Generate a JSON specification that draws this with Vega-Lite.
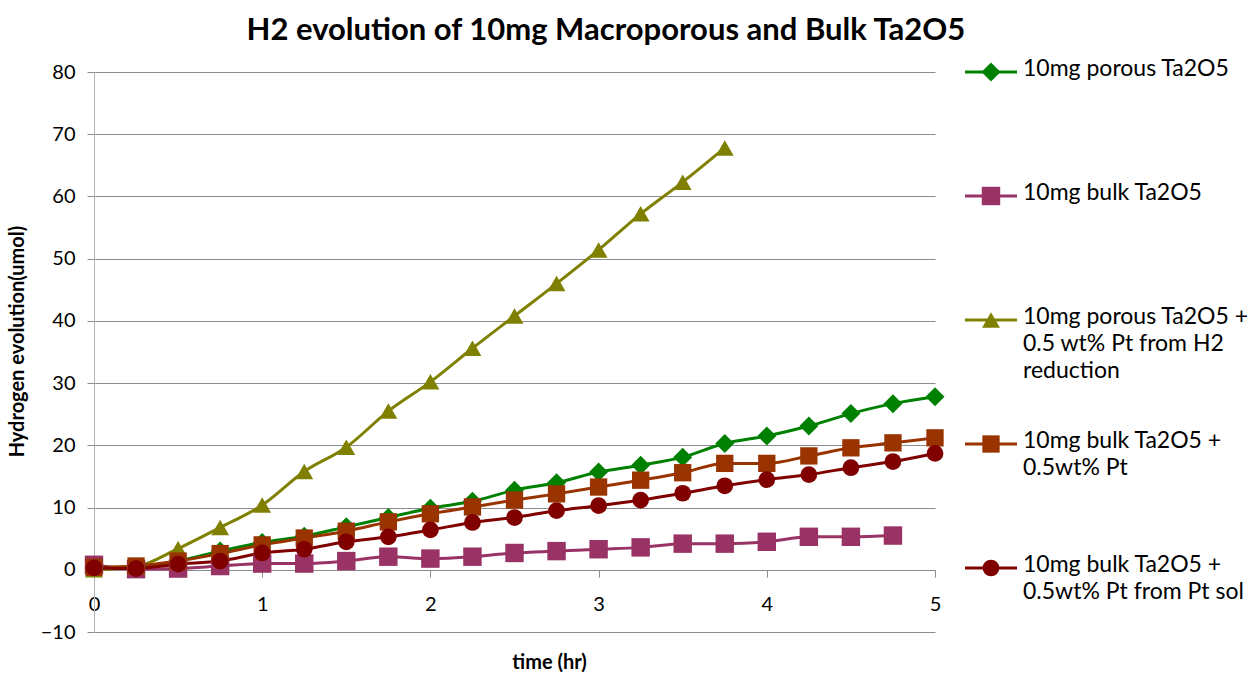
{
  "$schema": "https://vega.github.io/schema/vega-lite/v6.json",
  "padding": {"left": 7, "top": 15, "right": 0, "bottom": 0},
  "background": "white",
  "config": {"view": {"stroke": null}, "font": "Lato", "concat": {"spacing": 18}},
  "title": {"text": "H2 evolution of 10mg Macroporous and Bulk Ta2O5", "fontSize": 31, "font": "Lato", "fontWeight": "bold", "color": "black", "anchor": "middle", "offset": 11, "dx": -22},
  "datasets": {
    "series": [
      {"series": "10mg porous Ta2O5", "time": 0, "h2": 0.3},
      {"series": "10mg porous Ta2O5", "time": 0.25, "h2": 0.5},
      {"series": "10mg porous Ta2O5", "time": 0.5, "h2": 1.4},
      {"series": "10mg porous Ta2O5", "time": 0.75, "h2": 3.0},
      {"series": "10mg porous Ta2O5", "time": 1, "h2": 4.4},
      {"series": "10mg porous Ta2O5", "time": 1.25, "h2": 5.4},
      {"series": "10mg porous Ta2O5", "time": 1.5, "h2": 6.9},
      {"series": "10mg porous Ta2O5", "time": 1.75, "h2": 8.4},
      {"series": "10mg porous Ta2O5", "time": 2, "h2": 9.9},
      {"series": "10mg porous Ta2O5", "time": 2.25, "h2": 11.0},
      {"series": "10mg porous Ta2O5", "time": 2.5, "h2": 12.8},
      {"series": "10mg porous Ta2O5", "time": 2.75, "h2": 14.0},
      {"series": "10mg porous Ta2O5", "time": 3, "h2": 15.7},
      {"series": "10mg porous Ta2O5", "time": 3.25, "h2": 16.8},
      {"series": "10mg porous Ta2O5", "time": 3.5, "h2": 18.1},
      {"series": "10mg porous Ta2O5", "time": 3.75, "h2": 20.3},
      {"series": "10mg porous Ta2O5", "time": 4, "h2": 21.5},
      {"series": "10mg porous Ta2O5", "time": 4.25, "h2": 23.1},
      {"series": "10mg porous Ta2O5", "time": 4.5, "h2": 25.1},
      {"series": "10mg porous Ta2O5", "time": 4.75, "h2": 26.7},
      {"series": "10mg porous Ta2O5", "time": 5, "h2": 27.8},
      {"series": "10mg bulk Ta2O5", "time": 0, "h2": 0.8},
      {"series": "10mg bulk Ta2O5", "time": 0.25, "h2": 0.1},
      {"series": "10mg bulk Ta2O5", "time": 0.5, "h2": 0.2},
      {"series": "10mg bulk Ta2O5", "time": 0.75, "h2": 0.6},
      {"series": "10mg bulk Ta2O5", "time": 1, "h2": 1.0},
      {"series": "10mg bulk Ta2O5", "time": 1.25, "h2": 1.0},
      {"series": "10mg bulk Ta2O5", "time": 1.5, "h2": 1.4},
      {"series": "10mg bulk Ta2O5", "time": 1.75, "h2": 2.1},
      {"series": "10mg bulk Ta2O5", "time": 2, "h2": 1.8},
      {"series": "10mg bulk Ta2O5", "time": 2.25, "h2": 2.1},
      {"series": "10mg bulk Ta2O5", "time": 2.5, "h2": 2.7},
      {"series": "10mg bulk Ta2O5", "time": 2.75, "h2": 3.0},
      {"series": "10mg bulk Ta2O5", "time": 3, "h2": 3.3},
      {"series": "10mg bulk Ta2O5", "time": 3.25, "h2": 3.6},
      {"series": "10mg bulk Ta2O5", "time": 3.5, "h2": 4.2},
      {"series": "10mg bulk Ta2O5", "time": 3.75, "h2": 4.2},
      {"series": "10mg bulk Ta2O5", "time": 4, "h2": 4.5},
      {"series": "10mg bulk Ta2O5", "time": 4.25, "h2": 5.3},
      {"series": "10mg bulk Ta2O5", "time": 4.5, "h2": 5.3},
      {"series": "10mg bulk Ta2O5", "time": 4.75, "h2": 5.5},
      {"series": "10mg porous Ta2O5 + 0.5 wt% Pt from H2 reduction", "time": 0, "h2": 0.0},
      {"series": "10mg porous Ta2O5 + 0.5 wt% Pt from H2 reduction", "time": 0.25, "h2": 0.5},
      {"series": "10mg porous Ta2O5 + 0.5 wt% Pt from H2 reduction", "time": 0.5, "h2": 3.4},
      {"series": "10mg porous Ta2O5 + 0.5 wt% Pt from H2 reduction", "time": 0.75, "h2": 6.8},
      {"series": "10mg porous Ta2O5 + 0.5 wt% Pt from H2 reduction", "time": 1, "h2": 10.4},
      {"series": "10mg porous Ta2O5 + 0.5 wt% Pt from H2 reduction", "time": 1.25, "h2": 15.8},
      {"series": "10mg porous Ta2O5 + 0.5 wt% Pt from H2 reduction", "time": 1.5, "h2": 19.7},
      {"series": "10mg porous Ta2O5 + 0.5 wt% Pt from H2 reduction", "time": 1.75, "h2": 25.5},
      {"series": "10mg porous Ta2O5 + 0.5 wt% Pt from H2 reduction", "time": 2, "h2": 30.2},
      {"series": "10mg porous Ta2O5 + 0.5 wt% Pt from H2 reduction", "time": 2.25, "h2": 35.6},
      {"series": "10mg porous Ta2O5 + 0.5 wt% Pt from H2 reduction", "time": 2.5, "h2": 40.8},
      {"series": "10mg porous Ta2O5 + 0.5 wt% Pt from H2 reduction", "time": 2.75, "h2": 46.0},
      {"series": "10mg porous Ta2O5 + 0.5 wt% Pt from H2 reduction", "time": 3, "h2": 51.4},
      {"series": "10mg porous Ta2O5 + 0.5 wt% Pt from H2 reduction", "time": 3.25, "h2": 57.2},
      {"series": "10mg porous Ta2O5 + 0.5 wt% Pt from H2 reduction", "time": 3.5, "h2": 62.3},
      {"series": "10mg porous Ta2O5 + 0.5 wt% Pt from H2 reduction", "time": 3.75, "h2": 67.8},
      {"series": "10mg bulk Ta2O5 + 0.5wt% Pt", "time": 0, "h2": 0.4},
      {"series": "10mg bulk Ta2O5 + 0.5wt% Pt", "time": 0.25, "h2": 0.6},
      {"series": "10mg bulk Ta2O5 + 0.5wt% Pt", "time": 0.5, "h2": 1.4},
      {"series": "10mg bulk Ta2O5 + 0.5wt% Pt", "time": 0.75, "h2": 2.6},
      {"series": "10mg bulk Ta2O5 + 0.5wt% Pt", "time": 1, "h2": 4.0},
      {"series": "10mg bulk Ta2O5 + 0.5wt% Pt", "time": 1.25, "h2": 5.1},
      {"series": "10mg bulk Ta2O5 + 0.5wt% Pt", "time": 1.5, "h2": 6.2},
      {"series": "10mg bulk Ta2O5 + 0.5wt% Pt", "time": 1.75, "h2": 7.7},
      {"series": "10mg bulk Ta2O5 + 0.5wt% Pt", "time": 2, "h2": 9.0},
      {"series": "10mg bulk Ta2O5 + 0.5wt% Pt", "time": 2.25, "h2": 10.1},
      {"series": "10mg bulk Ta2O5 + 0.5wt% Pt", "time": 2.5, "h2": 11.2},
      {"series": "10mg bulk Ta2O5 + 0.5wt% Pt", "time": 2.75, "h2": 12.2},
      {"series": "10mg bulk Ta2O5 + 0.5wt% Pt", "time": 3, "h2": 13.3},
      {"series": "10mg bulk Ta2O5 + 0.5wt% Pt", "time": 3.25, "h2": 14.4},
      {"series": "10mg bulk Ta2O5 + 0.5wt% Pt", "time": 3.5, "h2": 15.6},
      {"series": "10mg bulk Ta2O5 + 0.5wt% Pt", "time": 3.75, "h2": 17.1},
      {"series": "10mg bulk Ta2O5 + 0.5wt% Pt", "time": 4, "h2": 17.1},
      {"series": "10mg bulk Ta2O5 + 0.5wt% Pt", "time": 4.25, "h2": 18.3},
      {"series": "10mg bulk Ta2O5 + 0.5wt% Pt", "time": 4.5, "h2": 19.6},
      {"series": "10mg bulk Ta2O5 + 0.5wt% Pt", "time": 4.75, "h2": 20.4},
      {"series": "10mg bulk Ta2O5 + 0.5wt% Pt", "time": 5, "h2": 21.2},
      {"series": "10mg bulk Ta2O5 + 0.5wt% Pt from Pt sol", "time": 0, "h2": 0.3},
      {"series": "10mg bulk Ta2O5 + 0.5wt% Pt from Pt sol", "time": 0.25, "h2": 0.2},
      {"series": "10mg bulk Ta2O5 + 0.5wt% Pt from Pt sol", "time": 0.5, "h2": 0.9},
      {"series": "10mg bulk Ta2O5 + 0.5wt% Pt from Pt sol", "time": 0.75, "h2": 1.4},
      {"series": "10mg bulk Ta2O5 + 0.5wt% Pt from Pt sol", "time": 1, "h2": 2.7},
      {"series": "10mg bulk Ta2O5 + 0.5wt% Pt from Pt sol", "time": 1.25, "h2": 3.3},
      {"series": "10mg bulk Ta2O5 + 0.5wt% Pt from Pt sol", "time": 1.5, "h2": 4.5},
      {"series": "10mg bulk Ta2O5 + 0.5wt% Pt from Pt sol", "time": 1.75, "h2": 5.3},
      {"series": "10mg bulk Ta2O5 + 0.5wt% Pt from Pt sol", "time": 2, "h2": 6.4},
      {"series": "10mg bulk Ta2O5 + 0.5wt% Pt from Pt sol", "time": 2.25, "h2": 7.6},
      {"series": "10mg bulk Ta2O5 + 0.5wt% Pt from Pt sol", "time": 2.5, "h2": 8.4},
      {"series": "10mg bulk Ta2O5 + 0.5wt% Pt from Pt sol", "time": 2.75, "h2": 9.5},
      {"series": "10mg bulk Ta2O5 + 0.5wt% Pt from Pt sol", "time": 3, "h2": 10.3},
      {"series": "10mg bulk Ta2O5 + 0.5wt% Pt from Pt sol", "time": 3.25, "h2": 11.2},
      {"series": "10mg bulk Ta2O5 + 0.5wt% Pt from Pt sol", "time": 3.5, "h2": 12.3},
      {"series": "10mg bulk Ta2O5 + 0.5wt% Pt from Pt sol", "time": 3.75, "h2": 13.5},
      {"series": "10mg bulk Ta2O5 + 0.5wt% Pt from Pt sol", "time": 4, "h2": 14.5},
      {"series": "10mg bulk Ta2O5 + 0.5wt% Pt from Pt sol", "time": 4.25, "h2": 15.3},
      {"series": "10mg bulk Ta2O5 + 0.5wt% Pt from Pt sol", "time": 4.5, "h2": 16.4},
      {"series": "10mg bulk Ta2O5 + 0.5wt% Pt from Pt sol", "time": 4.75, "h2": 17.4},
      {"series": "10mg bulk Ta2O5 + 0.5wt% Pt from Pt sol", "time": 5, "h2": 18.7}
    ],
    "legend": [
      {"series": "10mg porous Ta2O5", "label": "10mg porous Ta2O5"},
      {"series": "10mg bulk Ta2O5", "label": "10mg bulk Ta2O5"},
      {"series": "10mg porous Ta2O5 + 0.5 wt% Pt from H2 reduction", "label": "10mg porous Ta2O5 +\n0.5 wt% Pt from H2\nreduction"},
      {"series": "10mg bulk Ta2O5 + 0.5wt% Pt", "label": "10mg bulk Ta2O5 +\n0.5wt% Pt"},
      {"series": "10mg bulk Ta2O5 + 0.5wt% Pt from Pt sol", "label": "10mg bulk Ta2O5 +\n0.5wt% Pt from Pt sol"}
    ]
  },
  "hconcat": [
    {
      "width": 841,
      "height": 560,
      "data": {"name": "series"},
      "encoding": {
        "x": {"field": "time", "type": "quantitative",
          "scale": {"domain": [0, 5], "nice": false, "zero": false},
          "axis": {"values": [0, 1, 2, 3, 4, 5], "grid": false, "offset": -62, "domainColor": "#8c8c8c", "tickColor": "#8c8c8c", "tickSize": 7, "labelFontSize": 20, "labelFont": "Lato", "labelColor": "black", "labelPadding": 17, "labelFlush": false, "title": "time (hr)", "titleFont": "Lato", "titleFontSize": 20, "titleFontWeight": "bold", "titleColor": "black", "titlePadding": 38, "titleX": 455}},
        "y": {"field": "h2", "type": "quantitative",
          "scale": {"domain": [-10, 80], "nice": false, "zero": false},
          "axis": {"values": [-10, 0, 10, 20, 30, 40, 50, 60, 70, 80], "grid": true, "gridColor": "#8c8c8c", "gridWidth": 1, "domainColor": "#b3b3b3", "tickColor": "#8c8c8c", "tickSize": 7, "labelFontSize": 20, "labelFont": "Lato", "labelColor": "black", "labelPadding": 12, "title": "Hydrogen evolution(umol)", "titleFont": "Lato", "titleFontSize": 20, "titleFontWeight": "bold", "titleColor": "black", "titlePadding": 13, "titleY": 269}},
        "color": {"field": "series", "type": "nominal",
          "scale": {"domain": ["10mg porous Ta2O5", "10mg bulk Ta2O5", "10mg porous Ta2O5 + 0.5 wt% Pt from H2 reduction", "10mg bulk Ta2O5 + 0.5wt% Pt", "10mg bulk Ta2O5 + 0.5wt% Pt from Pt sol"], "range": ["#008000", "#993366", "#808000", "#993300", "#800000"]},
          "legend": null}
      },
      "layer": [
        {"mark": {"type": "line", "strokeWidth": 3, "interpolate": "monotone"}, "encoding": {}},
        {"mark": {"type": "point", "filled": true, "opacity": 1},
          "encoding": {
            "shape": {"field": "series", "type": "nominal", "scale": {"domain": ["10mg porous Ta2O5", "10mg bulk Ta2O5", "10mg porous Ta2O5 + 0.5 wt% Pt from H2 reduction", "10mg bulk Ta2O5 + 0.5wt% Pt", "10mg bulk Ta2O5 + 0.5wt% Pt from Pt sol"], "range": ["diamond", "square", "triangle-up", "square", "circle"]}, "legend": null},
            "size": {"field": "series", "type": "nominal", "scale": {"domain": ["10mg porous Ta2O5", "10mg bulk Ta2O5", "10mg porous Ta2O5 + 0.5 wt% Pt from H2 reduction", "10mg bulk Ta2O5 + 0.5wt% Pt", "10mg bulk Ta2O5 + 0.5wt% Pt from Pt sol"], "range": [360, 280, 400, 280, 240]}, "legend": null}
          }}
      ]
    },
    {
      "width": 52,
      "height": 496,
      "data": {"name": "legend"},
      "encoding": {
        "y": {"field": "series", "type": "nominal", "scale": {"type": "point", "padding": 0, "domain": ["10mg porous Ta2O5", "10mg bulk Ta2O5", "10mg porous Ta2O5 + 0.5 wt% Pt from H2 reduction", "10mg bulk Ta2O5 + 0.5wt% Pt", "10mg bulk Ta2O5 + 0.5wt% Pt from Pt sol"]}, "axis": null},
        "color": {"field": "series", "type": "nominal", "legend": null}
      },
      "layer": [
        {"mark": {"type": "rule", "strokeWidth": 3},
          "encoding": {"x": {"datum": 0, "type": "quantitative", "scale": {"domain": [0, 1], "nice": false}, "axis": null}, "x2": {"datum": 1}}},
        {"mark": {"type": "point", "filled": true, "opacity": 1},
          "encoding": {"x": {"datum": 0.5, "type": "quantitative"},
            "shape": {"field": "series", "type": "nominal", "legend": null},
            "size": {"field": "series", "type": "nominal", "legend": null}}},
        {"mark": {"type": "text", "align": "left", "baseline": "top", "dx": 6, "dy": -14, "fontSize": 23, "font": "Lato", "color": "black", "lineBreak": "\n", "lineHeight": 27},
          "encoding": {"x": {"datum": 1, "type": "quantitative"}, "text": {"field": "label"}, "color": {"value": "black"}}}
      ]
    }
  ]
}
